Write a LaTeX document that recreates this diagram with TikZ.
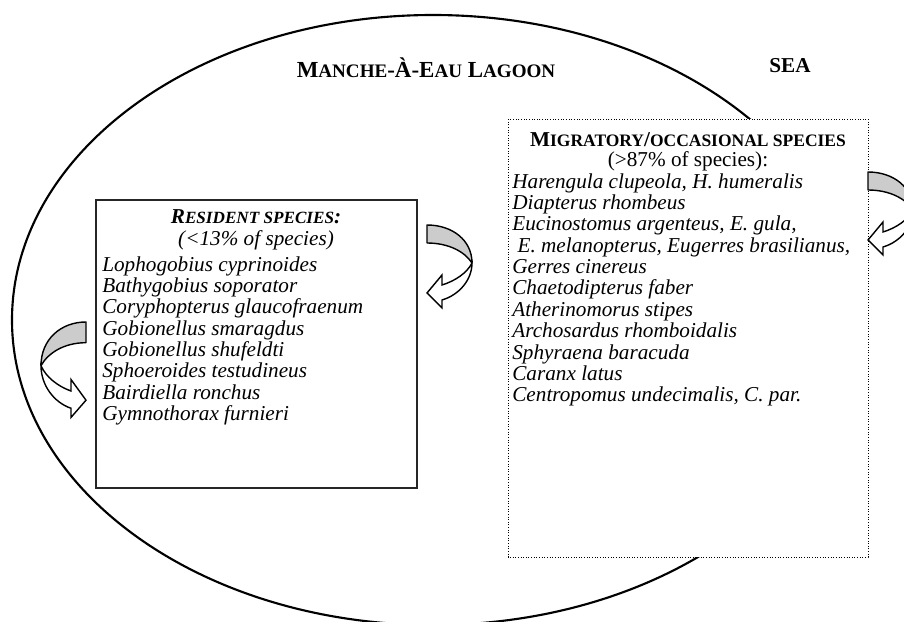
\documentclass[tikz,border=0pt]{standalone}
\usepackage{fontspec}
\setmainfont{Liberation Serif}
\newcommand{\smcap}[1]{{\fontsize{9.7}{12}\selectfont #1}}
\newcommand{\bigsmcap}[1]{{\fontsize{10.8}{13}\selectfont #1}}
\tikzset{lagoonline/.style={line width=1.2pt}}
\tikzset{residentbox/.style={draw=black!85,line width=0.6pt,fill=white}}
\tikzset{migratorybox/.style={draw=black,densely dotted,line width=0.5pt,fill=white}}
\tikzset{arrowband/.style={thick,fill=gray!40,line join=round}}
\tikzset{arrowbody/.style={thick,fill=white,line join=miter}}
\tikzset{headlabel/.style={inner sep=0pt,font=\fontsize{12}{12.1}\selectfont\bfseries}}
\tikzset{notelabel/.style={inner sep=0pt,font=\fontsize{12}{12.1}\selectfont}}
\tikzset{speclist/.style={inner sep=0pt,align=left,anchor=north west,
    font=\fontsize{12}{12.1}\selectfont\itshape}}

\begin{document}
\begin{tikzpicture}[x=0.566pt,y=-0.566pt]

\pgfmathsetmacro{\W}{904}
\pgfmathsetmacro{\H}{622}

\useasboundingbox (0,0) rectangle (\W,\H);

\begin{scope}\clip (0,0) rectangle (\W,\H);

    %   ラグーンの楕円
    \draw[lagoonline] (433,320) ellipse [x radius=421, y radius=305];

    %   左の枠（定住種）
    \draw[residentbox] (96,200) rectangle (417,488);
    %   右の枠（回遊種）
    \draw[migratorybox] (508,119) rectangle (868,557);

    %   見出し
    \node[headlabel,font=\fontsize{13}{13}\selectfont\bfseries] (lagoon) at (426,68)
        {M\bigsmcap{ANCHE}-À-E\bigsmcap{AU} L\bigsmcap{AGOON}};
    \node[headlabel] (sea) at (790,66) {SEA};

    %   定住種
    \node[headlabel,font=\fontsize{12}{12.1}\selectfont\bfseries\itshape]
        (resTitle) at (256,217) {R\smcap{ESIDENT SPECIES}:};
    \node[notelabel,font=\fontsize{12}{12.1}\selectfont\itshape]
        (resShare) at (256,240) {(<13\% of species)};
    \node[speclist] (resList) at (102,256)
        {Lophogobius cyprinoides\\
         Bathygobius soporator\\
         Coryphopterus glaucofraenum\\
         Gobionellus smaragdus\\
         Gobionellus shufeldti\\
         Sphoeroides testudineus\\
         Bairdiella ronchus\\
         Gymnothorax furnieri};

    %   回遊種
    \node[headlabel] (migTitle) at (688,140)
        {M{\fontsize{9.9}{12}\selectfont IGRATORY}/{\fontsize{9.9}{12}\selectfont OCCASIONAL SPECIES}};
    \node[notelabel] (migShare) at (688,161) {(>87\% of species):};
    \node[speclist] (migList) at (512,173)
        {Harengula clupeola, H. humeralis\\
         Diapterus rhombeus\\
         Eucinostomus argenteus, E. gula,\\
         \hspace*{0.25em}E. melanopterus, Eugerres brasilianus,\\
         Gerres cinereus\\
         Chaetodipterus faber\\
         Atherinomorus stipes\\
         Archosardus rhomboidalis\\
         Sphyraena baracuda\\
         Caranx latus\\
         Centropomus undecimalis, C. par.};

    %   中央の曲がった矢印
    \begin{scope}[shift={(427,225)}]
        \draw[arrowband] (0,0)..controls(25,0) and (45,15)..(45,38)
            ..controls(38,27) and (22,18)..(0,18) -- cycle;
        \draw[arrowbody] (45,38)..controls(45,55) and (32,70)..(15,75)
            -- (15,83) -- (0,68) -- (15,50) -- (15,60)
            ..controls(28,56) and (40,48)..(45,38) -- cycle;
    \end{scope}

    %   右端の曲がった矢印
    \begin{scope}[shift={(868,172)}]
        \draw[arrowband] (0,0)..controls(25,0) and (45,15)..(45,38)
            ..controls(38,27) and (22,18)..(0,18) -- cycle;
        \draw[arrowbody] (45,38)..controls(45,55) and (32,70)..(15,75)
            -- (15,83) -- (0,68) -- (15,50) -- (15,60)
            ..controls(28,56) and (40,48)..(45,38) -- cycle;
    \end{scope}

    %   左の曲がった矢印
    \begin{scope}[shift={(86,322)},xscale=-1,yscale=1.15]
        \draw[arrowband] (0,0)..controls(25,0) and (45,15)..(45,38)
            ..controls(38,27) and (22,18)..(0,18) -- cycle;
        \draw[arrowbody] (45,38)..controls(45,55) and (32,70)..(15,75)
            -- (15,83) -- (0,68) -- (15,50) -- (15,60)
            ..controls(28,56) and (40,48)..(45,38) -- cycle;
    \end{scope}

\end{scope}

\end{tikzpicture}
\end{document}
